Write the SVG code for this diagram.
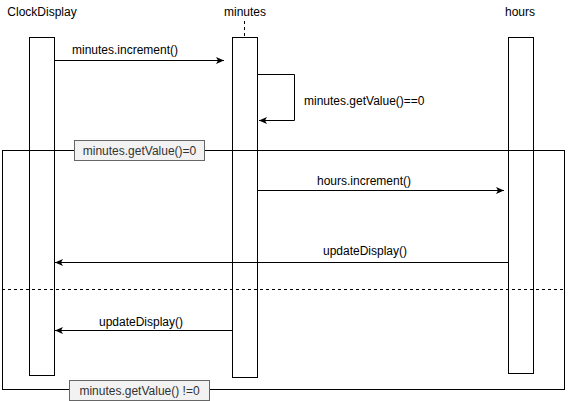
<svg xmlns="http://www.w3.org/2000/svg" width="568" height="401" viewBox="0 0 568 401">
  <style>
    text { font-family: "Liberation Sans", Arial, Helvetica, sans-serif; font-size: 12px; fill: #000; }
    .title { text-anchor: middle; }
    .act { fill: #fff; stroke: #000; stroke-width: 1; }
    .msg { fill: none; stroke: #000; stroke-width: 1; }
    .frame { fill: none; stroke: #000; stroke-width: 1; }
    .guard { fill: #f2f2f2; stroke: #666; stroke-width: 1; }
    .guard-text { text-anchor: middle; fill: #333; }
    .lbl { text-anchor: middle; }
  </style>
  <defs>
    <marker id="arrow" markerWidth="9" markerHeight="8" refX="8" refY="4" orient="auto" markerUnits="userSpaceOnUse">
      <path d="M0,0.5 L8,4 L0,7.5 L2,4 z" fill="#000"/>
    </marker>
  </defs>

  <rect width="568" height="401" fill="#fff"/>

  <!-- lifelines -->
  <g id="clockdisplay">
    <text class="title" x="42" y="16">ClockDisplay</text>
    <rect class="act" x="29.5" y="37.5" width="25" height="338"/>
  </g>
  <g id="minutes">
    <text class="title" x="245" y="16">minutes</text>
    <line x1="244.5" y1="21" x2="244.5" y2="37" stroke="#000" stroke-dasharray="3 3"/>
    <rect class="act" x="232.5" y="37.5" width="25" height="340"/>
  </g>
  <g id="hours">
    <text class="title" x="520" y="16">hours</text>
    <rect class="act" x="508.5" y="37.5" width="25" height="336"/>
  </g>

  <!-- alt frame with its two operands, drawn over the activations -->
  <g id="frame">
    <rect class="frame" x="2.5" y="150.5" width="562" height="239"/>
    <line x1="2" y1="289.5" x2="565" y2="289.5" stroke="#000" stroke-dasharray="3 3"/>
  </g>

  <!-- guard labels -->
  <g id="guard-eq">
    <rect class="guard" x="74.5" y="140.5" width="130" height="20"/>
    <text class="guard-text" x="139.5" y="155">minutes.getValue()=0</text>
  </g>
  <g id="guard-neq">
    <rect class="guard" x="69.5" y="380.5" width="140" height="20"/>
    <text class="guard-text" x="139.5" y="395">minutes.getValue() !=0</text>
  </g>

  <!-- messages -->
  <g id="connectors">
    <path class="msg" d="M54.5,60.5 H224" marker-end="url(#arrow)"/>
    <text class="lbl" x="125" y="54">minutes.increment()</text>

    <path class="msg" d="M257.5,74.5 H294.5 V120.5 H259" marker-end="url(#arrow)"/>
    <text x="304" y="105">minutes.getValue()==0</text>

    <path class="msg" d="M257.5,190.5 H504" marker-end="url(#arrow)"/>
    <text class="lbl" x="364" y="185">hours.increment()</text>

    <path class="msg" d="M508.5,262.5 H55" marker-end="url(#arrow)"/>
    <text class="lbl" x="365" y="255">updateDisplay()</text>

    <path class="msg" d="M232.5,330.5 H55" marker-end="url(#arrow)"/>
    <text class="lbl" x="141" y="326">updateDisplay()</text>
  </g>
</svg>
